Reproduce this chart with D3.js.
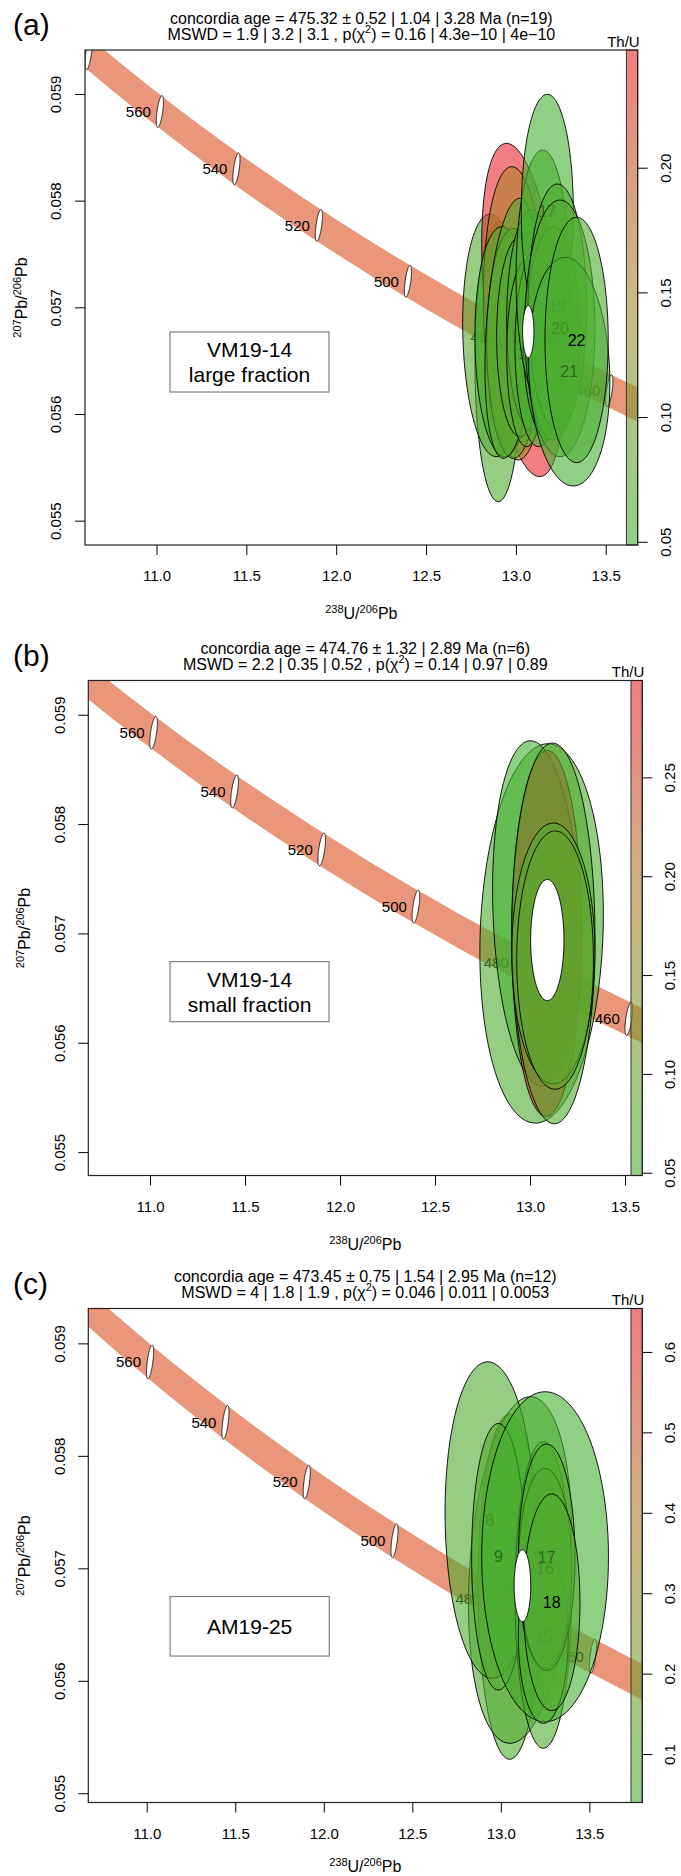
<!DOCTYPE html>
<html><head><meta charset="utf-8">
<script src="https://cdn.jsdelivr.net/npm/d3@7"></script>
<style>
body{margin:0;background:#fff}
svg{display:block}
text{font-family:"Liberation Sans",Arial,Helvetica,sans-serif;fill:#000}
</style>
</head><body>
<svg id="chart" width="681" height="1876"></svg>
<script>
// ---------------- shared data ----------------
const concAges = [420,440,460,480,500,520,540,560,580,600];
const concX = [14.8539,14.1566,13.5199,12.9362,12.3993,11.9037,11.4448,11.0187,10.6221,10.2518];
const concY = [0.055216,0.055714,0.056218,0.056729,0.057245,0.057768,0.058298,0.058835,0.059378,0.059928];
const concBandHalf = 0.00016;
const markerAges = [460,480,500,520,540,560,580];
const markerSx = 0.02, markerSy = 0.00015, markerRho = 0.6;
const xTickVals = [11.0,11.5,12.0,12.5,13.0,13.5];
const yTickVals = [0.055,0.056,0.057,0.058,0.059];

// ---------------- panel (a) ----------------
const aTag = "(a)";
const aTitle1 = "concordia age = 475.32 \u00B1 0.52 | 1.04 | 3.28 Ma (n=19)";
const aTitle2 = ["MSWD = 1.9 | 3.2 | 3.1 , p(\u03C7", "2", ") = 0.16 | 4.3e\u221210 | 4e\u221210"];
const aSample = ["VM19-14","large fraction"];
const aXDomain = [10.602,13.678], aYDomain = [0.054772,0.059412];
const aBoxX = [11.075,11.960], aBoxY = [0.056206,0.056769];
const aLabels = [1,3,4,5,6,8,9,10,11,12,14,15,16,17,18,19,20,21,22];
const aX   = [12.902,12.873,13.040,12.995,12.930,12.986,12.976,13.023,13.088,13.060,13.125,13.180,13.149,13.175,13.208,13.231,13.245,13.297,13.338];
const aY   = [0.056490,0.056737,0.056975,0.056944,0.056678,0.056662,0.056803,0.056725,0.056881,0.056569,0.056631,0.056694,0.057287,0.057897,0.056756,0.057006,0.056803,0.056397,0.056694];
const aSx  = [0.130,0.169,0.230,0.176,0.158,0.148,0.148,0.130,0.139,0.111,0.130,0.139,0.148,0.145,0.148,0.163,0.195,0.226,0.176];
const aSy  = [0.001312,0.001137,0.001562,0.001375,0.001078,0.001078,0.001219,0.000937,0.001031,0.000875,0.000937,0.000937,0.001187,0.001100,0.001000,0.001150,0.001203,0.001072,0.001150];
const aRho = [0,-0.1,-0.4,-0.1,-0.05,0,0.3,0,0,0,0,0,0,0,0,0,0,-0.1,0];
const aThU = [0.06,0.065,0.2472,0.16,0.055,0.06,0.07,0.065,0.06,0.07,0.055,0.06,0.06,0.0487,0.055,0.06,0.065,0.05,0.06];
const aAge = [13.069,0.056772,0.0315,0.000245,0];
const aCbTicks = [0.05,0.10,0.15,0.20];

// ---------------- panel (b) ----------------
const bTag = "(b)";
const bTitle1 = "concordia age = 474.76 \u00B1 1.32 | 2.89 Ma (n=6)";
const bTitle2 = ["MSWD = 2.2 | 0.35 | 0.52 , p(\u03C7", "2", ") = 0.14 | 0.97 | 0.89"];
const bSample = ["VM19-14","small fraction"];
const bXDomain = [10.675,13.591], bYDomain = [0.054786,0.059313];
const bBoxX = [11.105,11.942], bBoxY = [0.056193,0.056742];
const bLabels = [1,2,3,4,5,6];
const bX   = [13.061,13.035,13.088,13.123,13.123,13.132];
const bY   = [0.057000,0.057182,0.057000,0.057000,0.056817,0.056756];
const bSx  = [0.325,0.232,0.184,0.219,0.219,0.202];
const bSy  = [0.001735,0.001580,0.001674,0.001741,0.001193,0.001181];
const bRho = [0.1,-0.14,0.02,-0.02,0,0];
const bThU = [0.06,0.0486,0.299,0.065,0.07,0.09];
const bAge = [13.091,0.056939,0.0877,0.000554,0];
const bCbTicks = [0.05,0.10,0.15,0.20,0.25];

// ---------------- panel (c) ----------------
const cTag = "(c)";
const cTitle1 = "concordia age = 473.45 \u00B1 0.75 | 1.54 | 2.95 Ma (n=12)";
const cTitle2 = ["MSWD = 4 | 1.8 | 1.9 , p(\u03C7", "2", ") = 0.046 | 0.011 | 0.0053"];
const cSample = ["AM19-25"];
const cXDomain = [10.670,13.799], cYDomain = [0.054918,0.059310];
const cBoxX = [11.132,12.031], cBoxY = [0.056220,0.056749];
const cLabels = [1,3,4,5,8,9,11,13,15,16,17,18];
const cX   = [13.127,13.050,13.193,13.109,12.939,12.986,13.240,13.250,13.240,13.250,13.259,13.287];
const cY   = [0.056600,0.056837,0.057311,0.056985,0.057429,0.057103,0.056763,0.057103,0.056392,0.057000,0.057098,0.056698];
const cSx  = [0.113,0.179,0.113,0.292,0.254,0.151,0.160,0.358,0.141,0.151,0.160,0.160];
const cSy  = [0.000859,0.001535,0.000370,0.001541,0.001407,0.001185,0.001363,0.001467,0.000770,0.000889,0.001007,0.000963];
const cRho = [0,0,0,0.2,-0.05,0,0,0,0,0,0,0];
const cThU = [0.654,0.08,0.1,0.09,0.07,0.1,0.07,0.0398,0.09,0.1,0.08,0.08];
const cAge = [13.122,0.056846,0.047,0.00032,0];
const cCbTicks = [0.1,0.2,0.3,0.4,0.5,0.6];

// ---------------- drawing ----------------
const svg = d3.select("#chart");
svg.append("rect").attr("width",681).attr("height",1876).attr("fill","#fff");
const defs = svg.append("defs");
const colG = "rgb(68,176,50)", colM = "rgb(165,140,40)", colR = "rgb(232,40,45)";
const FILL_OP = 0.6;
const CBW = 11.3;
const FF = '"Liberation Sans",Arial,sans-serif';

function ellPts(cx,cy,sx,sy,rho,n=96){
  const r = Math.sqrt(Math.max(0,1-rho*rho));
  return d3.range(n).map(i=>{const t=2*Math.PI*i/n;
    return [cx+sx*Math.cos(t), cy+sy*(rho*Math.cos(t)+r*Math.sin(t))];});
}

function drawPanel(p){
  const L = p.box;
  const g = svg.append("g");
  const x = d3.scaleLinear().domain(p.xDomain).range([L.left,L.right]);
  const y = d3.scaleLinear().domain(p.yDomain).range([L.bottom,L.top]);
  const ext = d3.extent(p.thu);
  const col = d3.scaleLinear().domain([ext[0],(ext[0]+ext[1])/2,ext[1]])
      .range([colG,colM,colR]).interpolate(d3.interpolateRgb);
  const clipId = "clip"+p.id;
  defs.append("clipPath").attr("id",clipId).append("rect")
    .attr("x",L.left).attr("y",L.top).attr("width",L.right-L.left).attr("height",L.bottom-L.top);
  const pg = g.append("g").attr("clip-path",`url(#${clipId})`);
  const conc = concAges.map((a,i)=>({age:a,x:concX[i],y:concY[i]}));
  pg.append("path").datum(conc)
    .attr("d", d3.area().x(d=>x(d.x)).y0(d=>y(d.y-concBandHalf)).y1(d=>y(d.y+concBandHalf)).curve(d3.curveNatural))
    .attr("fill","#E9967A");
  const line = d3.line().x(q=>x(q[0])).y(q=>y(q[1])).curve(d3.curveLinearClosed);
  markerAges.forEach(a=>{
    const c = conc.find(d=>d.age===a);
    pg.append("path").attr("d",line(ellPts(c.x,c.y,markerSx,markerSy,markerRho)))
      .attr("fill","#fff").attr("stroke","#000").attr("stroke-width",0.8);
    pg.append("text").attr("x",x(c.x)-9).attr("y",y(c.y)+5.4).attr("text-anchor","end")
      .attr("font-size",15).text(a);
  });
  p.labels.forEach((lab,i)=>{
    pg.append("path").attr("d",line(ellPts(p.x[i],p.y[i],p.sx[i],p.sy[i],p.rho[i])))
      .attr("fill",col(p.thu[i])).attr("fill-opacity",FILL_OP)
      .attr("stroke","#000").attr("stroke-width",0.9);
    pg.append("text").attr("x",x(p.x[i])).attr("y",y(p.y[i])+5.6).attr("text-anchor","middle")
      .attr("font-size",16).text(lab);
  });
  pg.append("path").attr("d",line(ellPts(p.age[0],p.age[1],p.age[2],p.age[3],p.age[4])))
    .attr("fill","#fff").attr("stroke","#000").attr("stroke-width",0.9);
  // sample box
  const bx0=x(p.boxX[0]), bx1=x(p.boxX[1]), by0=y(p.boxY[1]), by1=y(p.boxY[0]);
  g.append("rect").attr("x",bx0).attr("y",by0).attr("width",bx1-bx0).attr("height",by1-by0)
    .attr("fill","#fff").attr("stroke","#808080").attr("stroke-width",1.2);
  const cy = (by0+by1)/2, n = p.sample.length;
  p.sample.forEach((s,k)=>{
    g.append("text").attr("x",(bx0+bx1)/2).attr("y",cy+(k-(n-1)/2)*25+7.5)
      .attr("text-anchor","middle").attr("font-size",21).text(s);
  });
  // colour bar
  const cbL = L.right-CBW;
  const cb = d3.scaleLinear().domain(ext).range([L.bottom,L.top]);
  const gradId = "grad"+p.id;
  const grad = defs.append("linearGradient").attr("id",gradId)
    .attr("x1",0).attr("y1",1).attr("x2",0).attr("y2",0);
  d3.range(0,1.0001,0.05).forEach(f=>{
    grad.append("stop").attr("offset",f).attr("stop-color",col(ext[0]+f*(ext[1]-ext[0])));
  });
  g.append("rect").attr("x",cbL).attr("y",L.top).attr("width",CBW).attr("height",L.bottom-L.top)
    .attr("fill",`url(#${gradId})`).attr("fill-opacity",FILL_OP);
  g.append("rect").attr("x",cbL).attr("y",L.top).attr("width",CBW).attr("height",L.bottom-L.top)
    .attr("fill","none").attr("stroke","#333").attr("stroke-width",1);
  const cbAxis = g.append("g").attr("transform",`translate(${L.right},0)`)
    .call(d3.axisRight(cb).tickValues(p.cbTicks).tickFormat(d3.format(p.cbFmt)).tickSize(10));
  cbAxis.select(".domain").remove();
  cbAxis.selectAll("line").attr("stroke","#000");
  cbAxis.selectAll("text").attr("x",null).attr("dy",null).attr("text-anchor","middle")
    .attr("transform","translate(33,0) rotate(-90)").attr("font-size",15).style("font-family",FF);
  g.append("text").attr("x",L.right+2).attr("y",L.top-3.5).attr("text-anchor","end")
    .attr("font-size",15).text("Th/U");
  // plot box
  g.append("rect").attr("x",L.left).attr("y",L.top).attr("width",L.right-L.left).attr("height",L.bottom-L.top)
    .attr("fill","none").attr("stroke","#222").attr("stroke-width",1.2);
  // axes
  const xa = g.append("g").attr("transform",`translate(0,${L.bottom})`)
    .call(d3.axisBottom(x).tickValues(xTickVals).tickFormat(d3.format(".1f")).tickSize(10).tickPadding(15.6));
  xa.select(".domain").remove();
  xa.selectAll("line").attr("stroke","#000");
  xa.selectAll("text").attr("font-size",15).style("font-family",FF);
  const ya = g.append("g").attr("transform",`translate(${L.left},0)`)
    .call(d3.axisLeft(y).tickValues(yTickVals).tickFormat(d3.format(".3f")).tickSize(10));
  ya.select(".domain").remove();
  ya.selectAll("line").attr("stroke","#000");
  ya.selectAll("text").attr("x",null).attr("dy",null).attr("text-anchor","middle")
    .attr("transform","translate(-23.6,0) rotate(-90)").attr("font-size",15).style("font-family",FF);
  // axis titles
  const midX = (L.left+L.right)/2;
  const xl = g.append("text").attr("x",midX).attr("y",Math.min(L.bottom+74,1872)).attr("text-anchor","middle").attr("font-size",16);
  xl.append("tspan").attr("font-size",11).attr("dy",-6).text("238");
  xl.append("tspan").attr("dy",6).text("U/");
  xl.append("tspan").attr("font-size",11).attr("dy",-6).text("206");
  xl.append("tspan").attr("dy",6).text("Pb");
  const yl = g.append("text").attr("transform",`translate(${L.left-58},${(L.top+L.bottom)/2}) rotate(-90)`)
    .attr("text-anchor","middle").attr("font-size",16);
  yl.append("tspan").attr("font-size",11).attr("dy",-6).text("207");
  yl.append("tspan").attr("dy",6).text("Pb/");
  yl.append("tspan").attr("font-size",11).attr("dy",-6).text("206");
  yl.append("tspan").attr("dy",6).text("Pb");
  // titles
  g.append("text").attr("x",midX).attr("y",L.top-26.5).attr("text-anchor","middle").attr("font-size",16).text(p.title1);
  const t2 = g.append("text").attr("x",midX).attr("y",L.top-10.5).attr("text-anchor","middle").attr("font-size",16);
  t2.append("tspan").text(p.title2[0]);
  t2.append("tspan").attr("font-size",11).attr("dy",-7).text(p.title2[1]);
  t2.append("tspan").attr("dy",7).text(p.title2[2]);
  g.append("text").attr("x",13).attr("y",L.top-14.6).attr("font-size",30).text(p.tag);
}

drawPanel({id:"a",tag:aTag,title1:aTitle1,title2:aTitle2,sample:aSample,
  box:{left:85,right:637.7,top:50,bottom:545},xDomain:aXDomain,yDomain:aYDomain,boxX:aBoxX,boxY:aBoxY,
  labels:aLabels,x:aX,y:aY,sx:aSx,sy:aSy,rho:aRho,thu:aThU,age:aAge,cbTicks:aCbTicks,cbFmt:".2f"});
drawPanel({id:"b",tag:bTag,title1:bTitle1,title2:bTitle2,sample:bSample,
  box:{left:88.3,right:642.3,top:680.5,bottom:1175.5},xDomain:bXDomain,yDomain:bYDomain,boxX:bBoxX,boxY:bBoxY,
  labels:bLabels,x:bX,y:bY,sx:bSx,sy:bSy,rho:bRho,thu:bThU,age:bAge,cbTicks:bCbTicks,cbFmt:".2f"});
drawPanel({id:"c",tag:cTag,title1:cTitle1,title2:cTitle2,sample:cSample,
  box:{left:88.3,right:642.3,top:1308.5,bottom:1802.5},xDomain:cXDomain,yDomain:cYDomain,boxX:cBoxX,boxY:cBoxY,
  labels:cLabels,x:cX,y:cY,sx:cSx,sy:cSy,rho:cRho,thu:cThU,age:cAge,cbTicks:cCbTicks,cbFmt:".1f"});
</script>
</body></html>
